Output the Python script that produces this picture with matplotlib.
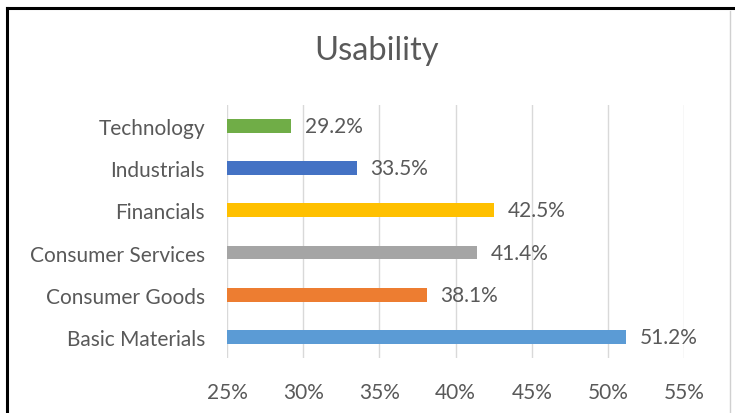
import matplotlib.pyplot as plt
from matplotlib.lines import Line2D
from matplotlib.ticker import PercentFormatter

# data, bottom to top as drawn
categories = ['Basic Materials', 'Consumer Goods', 'Consumer Services', 'Financials', 'Industrials', 'Technology']
values = [51.2, 38.1, 41.4, 42.5, 33.5, 29.2]
colors = ['#5B9BD5', '#ED7D31', '#A5A5A5', '#FFC000', '#4472C4', '#70AD47']
xticks = [25, 30, 35, 40, 45, 50, 55]

plt.rcParams['font.family'] = ['Lato', 'DejaVu Sans']
text_col = '#595959'

fig = plt.figure(figsize=(7.35, 4.14), dpi=100)
ax = fig.add_axes([0.309, 0.133, 0.6217, 0.611])

ypos = list(range(len(categories)))
ax.barh(ypos, [v - 25 for v in values], left=25, height=0.33, color=colors, zorder=3)
for y, v in zip(ypos, values):
    ax.text(v + 0.9, y, f'{v:.1f}%', va='center', ha='left', fontsize=15, color=text_col)

ax.set_xlim(25, 55)
ax.set_ylim(-0.5, len(categories) - 0.5)
ax.set_xticks(xticks)
ax.xaxis.set_major_formatter(PercentFormatter(decimals=0))
ax.set_yticks(ypos)
ax.set_yticklabels(categories)
ax.tick_params(axis='both', length=0, labelsize=15, labelcolor=text_col)
ax.tick_params(axis='x', pad=17)
ax.tick_params(axis='y', pad=16)
ax.grid(axis='x', color='#D9D9D9', linewidth=1, zorder=0)
for s in ax.spines.values():
    s.set_visible(False)

fig.text(0.512, 0.877, 'Usability', ha='center', va='center', fontsize=23.5, color=text_col)

# screenshot frame: black on top and left, faint gray on the right
fig.add_artist(Line2D([0.009, 1.0], [0.978, 0.978], transform=fig.transFigure,
                      color='black', linewidth=2.2))
fig.add_artist(Line2D([0.009, 0.009], [0.0, 0.978], transform=fig.transFigure,
                      color='black', linewidth=2.2))
fig.add_artist(Line2D([0.993, 0.993], [0.0, 0.972], transform=fig.transFigure,
                      color='#D0D0D0', linewidth=1))

fig.savefig('out.png', dpi=100, facecolor='white')
